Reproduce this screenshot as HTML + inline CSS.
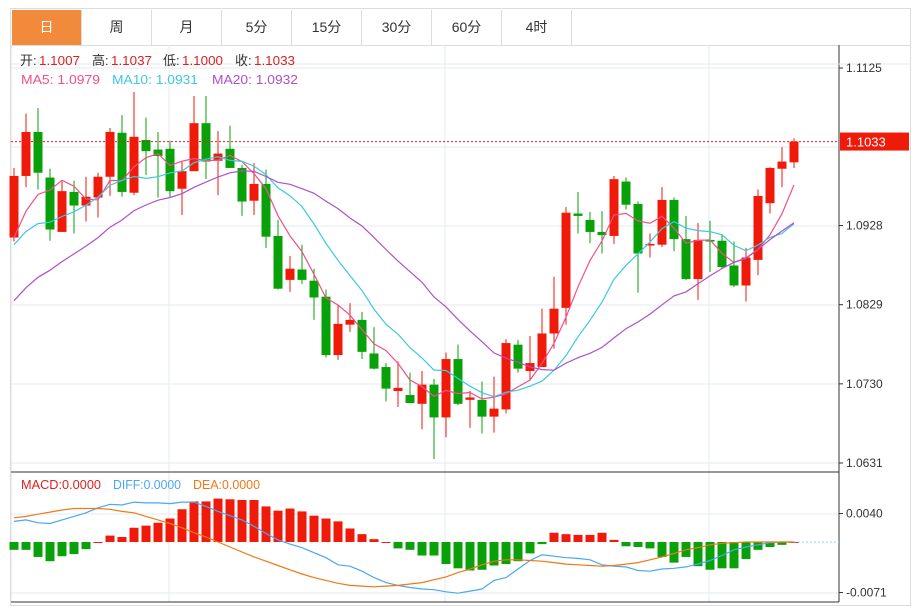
<!DOCTYPE html>
<html><head><meta charset="utf-8"><style>
body{margin:0;background:#fff;width:922px;height:605px;overflow:hidden;font-family:"Liberation Sans","Noto Sans CJK SC",sans-serif}
#wrap{position:absolute;left:10px;top:8px;width:899px;height:596px;border:1px solid #dcdcdc}
.tab{position:absolute;top:1px;height:35px;width:69px;border-right:1px solid #dcdcdc;text-align:center;line-height:35px;font-size:14px;color:#333}
.tab.on{background:#f28a3c;color:#fff}
#hdr{position:absolute;left:0;top:36px;width:899px;height:1px;background:#dcdcdc}
svg{position:absolute;left:0;top:0}
</style></head><body>
<div id="wrap">
<div class="tab on" style="left:1px">日</div>
<div class="tab" style="left:71px">周</div>
<div class="tab" style="left:141px">月</div>
<div class="tab" style="left:211px">5分</div>
<div class="tab" style="left:281px">15分</div>
<div class="tab" style="left:351px">30分</div>
<div class="tab" style="left:421px">60分</div>
<div class="tab" style="left:491px">4时</div>
<div id="hdr"></div>
</div>
<svg id="c" width="922" height="605"></svg>
<script>
const opens=[1.0913,1.0990,1.1045,1.0988,1.0920,1.0970,1.0953,1.0963,1.0989,1.1044,1.0969,1.1035,1.1023,1.1024,1.0974,1.0996,1.1056,1.1009,1.1024,1.1000,1.0959,1.0980,1.0915,1.0860,1.0873,1.0859,1.0839,1.0766,1.0804,1.0810,1.0768,1.0751,1.0721,1.0716,1.0705,1.0729,1.0688,1.0761,1.0710,1.0710,1.0689,1.0698,1.0779,1.0746,1.0751,1.0793,1.0825,1.0943,1.0935,1.0920,1.0915,1.0983,1.0955,1.0903,1.0904,1.0960,1.0911,1.0861,1.0910,1.0909,1.0878,1.0853,1.0885,1.0956,1.0999,1.1007];
const highs=[1.1000,1.1068,1.1075,1.0999,1.0983,1.0984,1.0989,1.0994,1.1050,1.1066,1.1095,1.1063,1.1045,1.1034,1.1008,1.1090,1.1090,1.1046,1.1053,1.1004,1.1006,1.0998,1.0935,1.0890,1.0904,1.0874,1.0848,1.0829,1.0831,1.0820,1.0801,1.0756,1.0758,1.0744,1.0746,1.0736,1.0769,1.0779,1.0721,1.0733,1.0739,1.0786,1.0785,1.0790,1.0824,1.0864,1.0951,1.0970,1.0945,1.0946,1.0990,1.0988,1.0958,1.0918,1.0976,1.0963,1.0940,1.0931,1.0934,1.0916,1.0908,1.0900,1.0973,1.1001,1.1026,1.1037];
const lows=[1.0908,1.0976,1.0973,1.0909,1.0920,1.0918,1.0933,1.0938,1.0965,1.0964,1.0966,1.0991,1.0963,1.0964,1.0941,1.0996,1.0986,1.0966,1.1000,1.0940,1.0941,1.0900,1.0848,1.0845,1.0855,1.0810,1.0763,1.0760,1.0795,1.0761,1.0748,1.0708,1.0701,1.0706,1.0673,1.0636,1.0663,1.0703,1.0675,1.0668,1.0669,1.0693,1.0744,1.0734,1.0751,1.0774,1.0804,1.0918,1.0906,1.0893,1.0905,1.0948,1.0844,1.0888,1.0901,1.0896,1.0860,1.0835,1.0870,1.0875,1.0851,1.0833,1.0866,1.0943,1.0976,1.1000];
const closes=[1.0990,1.1045,1.0994,1.0923,1.0971,1.0953,1.0964,1.0989,1.1045,1.0970,1.1039,1.1021,1.1015,1.0971,1.0996,1.1056,1.1008,1.1018,1.1000,1.0958,1.0980,1.0914,1.0849,1.0874,1.0860,1.0838,1.0766,1.0805,1.0810,1.0770,1.0749,1.0724,1.0725,1.0706,1.0729,1.0688,1.0761,1.0705,1.0713,1.0689,1.0699,1.0781,1.0749,1.0756,1.0793,1.0824,1.0944,1.0940,1.0920,1.0916,1.0986,1.0954,1.0893,1.0905,1.0960,1.0911,1.0861,1.0910,1.0908,1.0876,1.0853,1.0888,1.0965,1.1000,1.1008,1.1033];
const priorCloses=[1.0720,1.0735,1.0745,1.0755,1.0760,1.0770,1.0775,1.0785,1.0790,1.0805,1.0880,1.0895,1.0905,1.0900,1.0895,1.0880,1.0890,1.0895,1.0910];
const priceTicks=[1.1125,1.0928,1.0829,1.0730,1.0631];
const macdHist=[-11,-11,-21,-27,-20,-17,-10,0,9,7,20,23,27,33,46,57,57,61,60,59,59,50,44,47,43,37,33,29,19,11,4,0,-9,-11,-19,-19,-31,-37,-40,-39,-33,-31,-27,-16,-3,13,11,10,10,13,3,-6,-7,-9,-21,-29,-21,-34,-39,-37,-37,-24,-11,-7,-4,0];
const diffVals=[29,31,27,26,31,36,41,48,53,52,56,55,55,54,56,56,50,43,37,31,22,12,3,-3,-8,-15,-22,-32,-34,-41,-50,-57,-61,-64,-66,-67,-70,-72,-69,-66,-54,-50,-38,-26,-18,-20,-22,-23,-25,-32,-34,-35,-40,-41,-38,-37,-35,-31,-26,-19,-11,-7,-4,-1,0,0];
const deaVals=[34,36,39,42,45,47,47,47,46,43,41,36,31,26,20,13,7,0,-7,-14,-21,-27,-33,-39,-45,-50,-54,-58,-61,-62,-63,-62,-61,-59,-57,-53,-49,-43,-38,-32,-27,-25,-25,-26,-27,-29,-31,-32,-33,-34,-33,-31,-29,-25,-21,-16,-11,-8,-4,-2,-1,0,0,0,0,0];
const macdTicks=[0.0040,-0.0071];

const NS='http://www.w3.org/2000/svg';
const svg=document.getElementById('c');
function mk(t,a,parent){const e=document.createElementNS(NS,t);for(const k in a)e.setAttribute(k,a[k]);(parent||svg).appendChild(e);return e;}
const X0=11,X1=839;
const xAt=i=>14+i*12;
const yP=p=>68+(1.1125-p)*7996;
const yM=v=>542-v/0.0111*79;
const UP='#f01a0a',DN='#08a10a';
[68,147,226,305,384,463].forEach(y=>{const l=mk('line',{x1:X0,x2:X1,y1:y,y2:y,stroke:'#e3ebf2'});});
[514,593].forEach(y=>{const l=mk('line',{x1:X0,x2:X1,y1:y,y2:y,stroke:'#e3ebf2'});});
[169,445,709].forEach(x=>{const l=mk('line',{x1:x,x2:x,y1:45,y2:602,stroke:'#e3ebf2'});});
mk('line',{x1:X0,x2:X0,y1:45,y2:602,stroke:'#dcdcdc'});
mk('line',{x1:X1,x2:X1,y1:45,y2:602,stroke:'#333'});
mk('line',{x1:X0,x2:X1,y1:472,y2:472,stroke:'#333'});
mk('line',{x1:X0,x2:X1,y1:602,y2:602,stroke:'#333'});
mk('line',{x1:X0,x2:909,y1:64,y2:64,stroke:'#e3ebf2'});
priceTicks.forEach(p=>{const y=yP(p);mk('line',{x1:X1,x2:X1+4,y1:y,y2:y,stroke:'#333'});const t=mk('text',{x:846,y:y+4,'font-size':12,fill:'#333'});t.textContent=p.toFixed(4);});
macdTicks.forEach(v=>{const y=yM(v);mk('line',{x1:X1,x2:X1+4,y1:y,y2:y,stroke:'#333'});const t=mk('text',{x:846,y:y+4,'font-size':12,fill:'#333'});t.textContent=v.toFixed(4);});
const cg=mk('g',{});
for(let i=0;i<closes.length;i++){
 const up=closes[i]>=opens[i],col=up?UP:DN,x=xAt(i);
 const w=mk('line',{x1:x,x2:x,y1:yP(highs[i]),y2:yP(lows[i]),stroke:col,'stroke-width':1},cg);
 
 const t=yP(Math.max(opens[i],closes[i])),b=yP(Math.min(opens[i],closes[i]));
 const r=mk('rect',{x:x-4.5,y:t,width:9,height:Math.max(1.5,b-t),fill:col},cg);
 
}
const all=priorCloses.concat(closes);
function ma(n){return closes.map((c,i)=>{const j=i+priorCloses.length;let s=0;for(let k=j-n+1;k<=j;k++)s+=all[k];return s/n;});}
[[5,'#f0508a','ma5-line'],[10,'#3ec8e0','ma10-line'],[20,'#b050c8','ma20-line']].forEach(([n,c,nm])=>{
 const d=ma(n).map((v,i)=>(i?'L':'M')+xAt(i)+','+yP(v).toFixed(1)).join('');
 const p=mk('path',{d:d,fill:'none',stroke:c,'stroke-width':1.2});
});
const last=closes[closes.length-1],ly=yP(last);
mk('line',{x1:X0,x2:X1,y1:ly,y2:ly,stroke:'#e02020','stroke-dasharray':'2,2'});
const lb=mk('rect',{x:840,y:ly-9,width:69,height:18,fill:UP});
const lt=mk('text',{x:846,y:ly+5,'font-size':13,fill:'#fff'});lt.textContent=last.toFixed(4);
macdHist.forEach((v,i)=>{const y0=yM(0),y1=yM(v*1e-4);const r=mk('rect',{x:xAt(i)-4.5,y:Math.min(y0,y1),width:9,height:Math.max(1,Math.abs(y1-y0)),fill:v>=0?UP:DN});});
mk('line',{x1:xAt(macdHist.length-1),x2:X1,y1:yM(0),y2:yM(0),stroke:'#8cd0f0','stroke-dasharray':'2,2'});
[[diffVals,'#4aa8f0','diff-line'],[deaVals,'#f07818','dea-line']].forEach(([arr,c,nm])=>{
 const d=arr.map((v,i)=>(i?'L':'M')+xAt(i)+','+yM(v*1e-4).toFixed(1)).join('');
 const p=mk('path',{d:d,fill:'none',stroke:c,'stroke-width':1.2});
});
function txt(x,y,s,c,nm,w){const t=mk('text',{x:x,y:y,'font-size':13,fill:c});if(w){t.setAttribute('textLength',w);t.setAttribute('lengthAdjust','spacingAndGlyphs');}t.textContent=s;return t;}
txt(20,65,'开:','#333','open-label');txt(39,65,'1.1007','#e02020','open-value',41);
txt(92,65,'高:','#333','high-label');txt(111,65,'1.1037','#e02020','high-value',41);
txt(163,65,'低:','#333','low-label');txt(182,65,'1.1000','#e02020','low-value',41);
txt(235,65,'收:','#333','close-label');txt(254,65,'1.1033','#e02020','close-value',41);
txt(21,84,'MA5: 1.0979','#f0508a','ma5-legend',79);
txt(112,84,'MA10: 1.0931','#3ec8e0','ma10-legend',86);
txt(212,84,'MA20: 1.0932','#b050c8','ma20-legend',86);
txt(21,489,'MACD:0.0000','#e02020','macd-legend',80);
txt(113,489,'DIFF:0.0000','#4aa8f0','diff-legend',68);
txt(193,489,'DEA:0.0000','#f07818','dea-legend',67);
</script>
</body></html>
